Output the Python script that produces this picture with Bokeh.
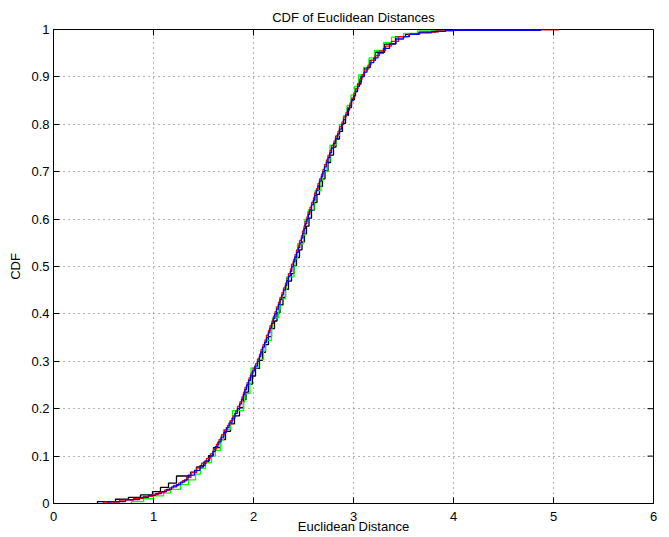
import numpy as np
from bokeh.plotting import figure
from bokeh.models import Range1d, FixedTicker
from bokeh.embed import file_html
from bokeh.resources import INLINE

# Axis ticks and their labels
x_ticks = [0, 1, 2, 3, 4, 5, 6]
x_tick_labels = ["0", "1", "2", "3", "4", "5", "6"]
y_ticks = [0, 0.1, 0.2, 0.3, 0.4, 0.5, 0.6, 0.7, 0.8, 0.9, 1]
y_tick_labels = ["0", "0.1", "0.2", "0.3", "0.4", "0.5", "0.6", "0.7", "0.8", "0.9", "1"]

# Empirical CDF steps: (distance, cumulative fraction reached at that distance)
black_steps = [
    (0.44, 0.004), (0.62, 0.009), (0.75, 0.013), (0.87, 0.018), (0.99, 0.025),
    (1.07, 0.034), (1.15, 0.043), (1.23, 0.058), (1.37, 0.066), (1.43, 0.077),
    (1.50, 0.087), (1.55, 0.101), (1.60, 0.118), (1.67, 0.135), (1.72, 0.152),
    (1.77, 0.168), (1.81, 0.185), (1.86, 0.202), (1.90, 0.219), (1.925, 0.235),
    (1.95, 0.252), (1.99, 0.269), (2.02, 0.285), (2.06, 0.302), (2.09, 0.319),
    (2.12, 0.335), (2.15, 0.352), (2.18, 0.369), (2.21, 0.385), (2.235, 0.402),
    (2.265, 0.419), (2.295, 0.435), (2.32, 0.452), (2.35, 0.469), (2.38, 0.485),
    (2.405, 0.502), (2.43, 0.519), (2.46, 0.535), (2.485, 0.552), (2.51, 0.569),
    (2.53, 0.585), (2.555, 0.602), (2.58, 0.619), (2.61, 0.635), (2.635, 0.652),
    (2.66, 0.669), (2.69, 0.685), (2.715, 0.702), (2.745, 0.719), (2.77, 0.735),
    (2.80, 0.752), (2.825, 0.769), (2.86, 0.785), (2.89, 0.802), (2.92, 0.819),
    (2.95, 0.835), (2.98, 0.852), (3.01, 0.869), (3.04, 0.885), (3.075, 0.902),
    (3.11, 0.919), (3.16, 0.935), (3.22, 0.952), (3.31, 0.969), (3.42, 0.985),
    (3.52, 0.990), (3.66, 0.995), (3.85, 1.000),
]

green_steps = [
    (0.78, 0.004), (0.90, 0.010), (1.00, 0.016), (1.10, 0.022), (1.17, 0.030),
    (1.27, 0.040), (1.35, 0.050), (1.42, 0.062), (1.47, 0.074), (1.52, 0.086),
    (1.58, 0.100), (1.62, 0.112), (1.67, 0.134), (1.70, 0.156), (1.77, 0.175),
    (1.79, 0.196), (1.90, 0.214), (1.91, 0.232), (1.965, 0.252), (1.975, 0.286),
    (2.045, 0.304), (2.10, 0.322), (2.12, 0.344), (2.18, 0.370), (2.19, 0.392),
    (2.25, 0.410), (2.265, 0.432), (2.32, 0.452), (2.33, 0.478), (2.405, 0.500),
    (2.415, 0.516), (2.44, 0.548), (2.50, 0.566), (2.515, 0.600), (2.55, 0.620),
    (2.605, 0.638), (2.615, 0.660), (2.675, 0.682), (2.69, 0.700), (2.735, 0.722),
    (2.765, 0.756), (2.825, 0.776), (2.86, 0.800), (2.90, 0.818), (2.935, 0.840),
    (2.975, 0.862), (3.01, 0.880), (3.05, 0.904), (3.10, 0.920), (3.155, 0.940),
    (3.21, 0.956), (3.30, 0.972), (3.38, 0.984), (3.50, 0.992), (3.64, 0.997),
    (3.90, 1.000),
]

red_steps = [
    (0.50, 0.003), (0.66, 0.007), (0.80, 0.011), (0.90, 0.015), (0.99, 0.019),
    (1.05, 0.023), (1.11, 0.028), (1.16, 0.033), (1.20, 0.038), (1.25, 0.043),
    (1.29, 0.048), (1.33, 0.055), (1.375, 0.065), (1.43, 0.075), (1.48, 0.085),
    (1.53, 0.095), (1.57, 0.105), (1.60, 0.115), (1.63, 0.125), (1.655, 0.135),
    (1.68, 0.145), (1.71, 0.155), (1.74, 0.165), (1.765, 0.175), (1.795, 0.185),
    (1.82, 0.195), (1.84, 0.205), (1.865, 0.215), (1.885, 0.225), (1.90, 0.235),
    (1.915, 0.245), (1.935, 0.255), (1.955, 0.265), (1.975, 0.275), (1.995, 0.285),
    (2.02, 0.295), (2.04, 0.305), (2.06, 0.315), (2.075, 0.325), (2.095, 0.335),
    (2.115, 0.345), (2.13, 0.355), (2.15, 0.365), (2.165, 0.375), (2.185, 0.385),
    (2.20, 0.395), (2.215, 0.405), (2.23, 0.415), (2.25, 0.425), (2.265, 0.435),
    (2.285, 0.445), (2.30, 0.455), (2.32, 0.465), (2.335, 0.475), (2.35, 0.485),
    (2.37, 0.495), (2.38, 0.505), (2.40, 0.515), (2.415, 0.525), (2.43, 0.535),
    (2.45, 0.545), (2.46, 0.555), (2.48, 0.565), (2.49, 0.575), (2.505, 0.585),
    (2.515, 0.595), (2.535, 0.605), (2.545, 0.615), (2.565, 0.625), (2.58, 0.635),
    (2.60, 0.645), (2.61, 0.655), (2.63, 0.665), (2.645, 0.675), (2.66, 0.685),
    (2.68, 0.695), (2.695, 0.705), (2.71, 0.715), (2.73, 0.725), (2.745, 0.735),
    (2.765, 0.745), (2.78, 0.755), (2.805, 0.765), (2.82, 0.775), (2.845, 0.785),
    (2.86, 0.795), (2.885, 0.805), (2.90, 0.815), (2.925, 0.825), (2.94, 0.835),
    (2.965, 0.845), (2.98, 0.855), (3.005, 0.865), (3.02, 0.875), (3.045, 0.885),
    (3.06, 0.895), (3.085, 0.905), (3.11, 0.915), (3.145, 0.925), (3.175, 0.935),
    (3.215, 0.945), (3.26, 0.955), (3.32, 0.965), (3.38, 0.975), (3.45, 0.985),
    (3.55, 0.990), (3.66, 0.994), (3.82, 0.997), (4.00, 0.999), (5.05, 1.000),
]

blue_steps = [
    (0.55, 0.004), (0.72, 0.008), (0.86, 0.013), (0.95, 0.017), (1.02, 0.021),
    (1.08, 0.025), (1.13, 0.030), (1.18, 0.035), (1.23, 0.040), (1.27, 0.045),
    (1.31, 0.050), (1.345, 0.06), (1.41, 0.07), (1.465, 0.08), (1.515, 0.09),
    (1.56, 0.10), (1.593, 0.11), (1.618, 0.12), (1.645, 0.13), (1.675, 0.14),
    (1.703, 0.15), (1.728, 0.16), (1.755, 0.17), (1.785, 0.18), (1.813, 0.19),
    (1.838, 0.20), (1.86, 0.21), (1.88, 0.22), (1.898, 0.23), (1.913, 0.24),
    (1.93, 0.25), (1.95, 0.26), (1.97, 0.27), (1.99, 0.28), (2.013, 0.29),
    (2.038, 0.30), (2.058, 0.31), (2.073, 0.32), (2.09, 0.33), (2.11, 0.34),
    (2.13, 0.35), (2.148, 0.36), (2.163, 0.37), (2.18, 0.38), (2.198, 0.39),
    (2.213, 0.40), (2.23, 0.41), (2.248, 0.42), (2.265, 0.43), (2.283, 0.44),
    (2.30, 0.45), (2.318, 0.46), (2.333, 0.47), (2.35, 0.48), (2.368, 0.49),
    (2.383, 0.50), (2.398, 0.51), (2.413, 0.52), (2.43, 0.53), (2.448, 0.54),
    (2.463, 0.55), (2.478, 0.56), (2.493, 0.57), (2.505, 0.58), (2.518, 0.59),
    (2.533, 0.60), (2.548, 0.61), (2.563, 0.62), (2.58, 0.63), (2.598, 0.64),
    (2.613, 0.65), (2.628, 0.66), (2.643, 0.67), (2.66, 0.68), (2.678, 0.69),
    (2.693, 0.70), (2.71, 0.71), (2.728, 0.72), (2.745, 0.73), (2.763, 0.74),
    (2.78, 0.75), (2.80, 0.76), (2.82, 0.77), (2.84, 0.78), (2.86, 0.79),
    (2.88, 0.80), (2.90, 0.81), (2.92, 0.82), (2.94, 0.83), (2.96, 0.84),
    (2.98, 0.85), (3.00, 0.86), (3.02, 0.87), (3.04, 0.88), (3.06, 0.89),
    (3.08, 0.90), (3.105, 0.91), (3.135, 0.92), (3.168, 0.93), (3.203, 0.94),
    (3.245, 0.95), (3.30, 0.96), (3.36, 0.97), (3.425, 0.98), (3.50, 0.985),
    (3.56, 0.990), (3.65, 0.993), (3.78, 0.996), (3.92, 0.998), (4.87, 1.000),
]

series = [
    ("#000000", black_steps),
    ("#00ff00", green_steps),
    ("#ff0000", red_steps),
    ("#0000ff", blue_steps),
]

FONT = "Liberation Sans"
X_MIN, X_MAX = 0, 6
Y_MIN, Y_MAX = 0, 1
FRAME_W, FRAME_H = 600, 474
TICK_PX = 6

p = figure(
    width=669, height=537,
    output_backend="svg", toolbar_location=None,
    x_range=Range1d(X_MIN, X_MAX), y_range=Range1d(Y_MIN, Y_MAX),
    min_border_left=53, min_border_right=16,
    min_border_top=29, min_border_bottom=34,
    title="CDF of Euclidean Distances",
    background_fill_color="white", border_fill_color="white",
)

p.title.text_font = FONT
p.title.text_font_size = "13px"
p.title.text_font_style = "normal"
p.title.align = "center"
p.title.vertical_align = "top"
p.title.standoff = 6
p.title.text_color = "black"

# Stepped CDF curves, each starting from zero at its smallest distance
for color, steps in series:
    xs = [s[0] for s in steps]
    ys = [s[1] for s in steps]
    x = np.array([xs[0]] + xs)
    y = np.array([0.0] + ys)
    p.step(x, y, mode="after", line_color=color, line_width=1.3)

# Dotted grid
for g, ticks in ((p.xgrid, x_ticks), (p.ygrid, y_ticks)):
    g.ticker = FixedTicker(ticks=ticks)
    g.grid_line_color = "#444444"
    g.grid_line_dash = "1 4"
    g.grid_line_width = 1
    g.grid_line_alpha = 0.8

for ax, ticks, labels in ((p.xaxis[0], x_ticks, x_tick_labels),
                          (p.yaxis[0], y_ticks, y_tick_labels)):
    ax.ticker = FixedTicker(ticks=ticks)
    ax.major_label_overrides = {t: l for t, l in zip(ticks, labels)}
    ax.major_tick_in = TICK_PX
    ax.major_tick_out = 0
    ax.minor_tick_line_color = None
    ax.axis_line_color = "black"
    ax.major_tick_line_color = "black"
    ax.major_label_text_font = FONT
    ax.major_label_text_font_size = "13px"
    ax.major_label_text_color = "black"
    ax.axis_label_text_font = FONT
    ax.axis_label_text_font_size = "13px"
    ax.axis_label_text_font_style = "normal"
    ax.axis_label_text_color = "black"

p.xaxis[0].major_label_standoff = 8
p.yaxis[0].major_label_standoff = 4

p.xaxis[0].axis_label = "Euclidean Distance"
p.xaxis[0].axis_label_standoff = -5
p.yaxis[0].axis_label = "CDF"
p.yaxis[0].axis_label_standoff = 5

# Inward tick marks along the top and right edges of the box
dx = TICK_PX * (X_MAX - X_MIN) / FRAME_W
dy = TICK_PX * (Y_MAX - Y_MIN) / FRAME_H
p.segment(x0=x_ticks, y0=[Y_MAX] * len(x_ticks), x1=x_ticks,
          y1=[Y_MAX - dy] * len(x_ticks), line_color="black", line_width=1)
p.segment(x0=[X_MAX] * len(y_ticks), y0=y_ticks, x1=[X_MAX - dx] * len(y_ticks),
          y1=y_ticks, line_color="black", line_width=1)

p.outline_line_color = "black"
p.outline_line_width = 1

open("out.html", "w").write(file_html(p, INLINE))
